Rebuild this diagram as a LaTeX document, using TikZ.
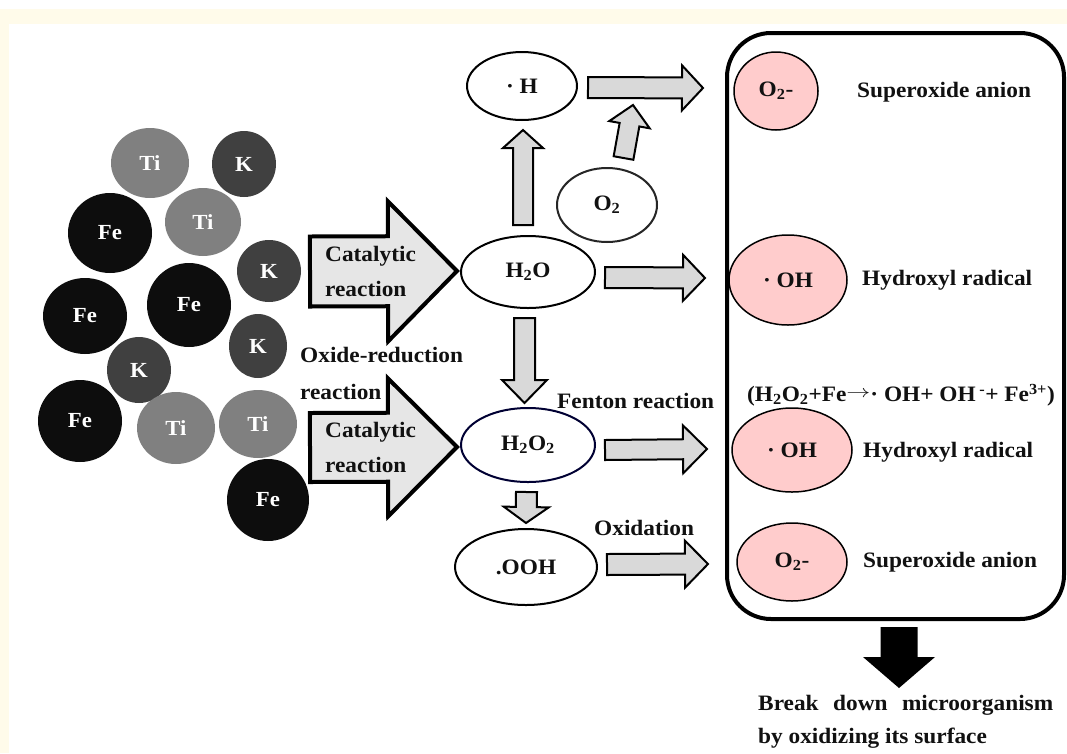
\documentclass[tikz,border=0pt]{standalone}
\usepackage{fontspec}
\setmainfont[FakeStretch=1.06]{Liberation Serif}
\usetikzlibrary{shapes.geometric,calc}
\definecolor{cream}{HTML}{FFFBEA}
\definecolor{tigray}{HTML}{808080}
\definecolor{kgray}{HTML}{404040}
\definecolor{fegray}{HTML}{0D0D0D}
\definecolor{pinkf}{HTML}{FFCCCC}
\definecolor{arrfill}{HTML}{D9D9D9}
\definecolor{catfill}{HTML}{E6E6E6}
\definecolor{inkc}{HTML}{111111}
\newcommand\Lf{\fontsize{22}{26}\selectfont\bfseries}
\newcommand\Ef{\fontsize{21.5}{25}\selectfont\bfseries}
\newcommand\longarr{\raisebox{4pt}{\resizebox{24pt}{6.5pt}{$\rightarrow$}}}
\newcommand\barrow[6]{%
  \coordinate (ba-A) at #2; \coordinate (ba-B) at #3;
  \coordinate (ba-C) at ($(ba-B)!#6pt!(ba-A)$);
  \path[#1] ($(ba-A)!#4pt!90:(ba-B)$) -- ($(ba-C)!#4pt!90:(ba-B)$) -- ($(ba-C)!#5pt!90:(ba-B)$) -- (ba-B)
    -- ($(ba-C)!#5pt!-90:(ba-B)$) -- ($(ba-C)!#4pt!-90:(ba-B)$) -- ($(ba-A)!#4pt!-90:(ba-B)$) -- cycle;}
\tikzset{
  elem/.style={ellipse, inner sep=0pt, text=white, font=\Ef},
  ti/.style={elem, fill=tigray},
  kk/.style={elem, fill=kgray},
  fe/.style={elem, fill=fegray},
  mol/.style={ellipse, draw=black, line width=2pt, fill=white, inner sep=0pt, font=\Lf, text=inkc},
  rad/.style={ellipse, draw=black, line width=1.5pt, fill=pinkf, inner sep=0pt, font=\Lf, text=inkc},
  lbl/.style={anchor=west, inner sep=0pt, font=\Lf, text=inkc},
  grayarrow/.style={draw=black, fill=arrfill, line width=2pt, line join=miter},
  catarrow/.style={draw=black, fill=catfill, line width=4pt, line join=miter},
  blackarrow/.style={fill=black},
}
\begin{document}
\begin{tikzpicture}[x=1pt, y=-1pt]
\useasboundingbox (0,0) rectangle (1067,753);
\fill[white] (0,0) rectangle (1067,753);
\fill[cream] (0,9) rectangle (1067,24);
\fill[cream] (0,9) rectangle (9,753);

% element particles
\node[ti, minimum width=78pt, minimum height=70pt] (ti1) at (150,163) {Ti};
\node[kk, minimum width=64pt, minimum height=66pt] (k1) at (244,164) {K};
\node[fe, minimum width=84pt, minimum height=80pt] (fe1) at (110,233) {Fe};
\node[ti, minimum width=76pt, minimum height=68pt] (ti2) at (203,222) {Ti};
\node[kk, minimum width=64pt, minimum height=62pt] (k2) at (269,271) {K};
\node[fe, minimum width=84pt, minimum height=84pt] (fe2) at (189,305) {Fe};
\node[fe, minimum width=84pt, minimum height=76pt] (fe3) at (85,316) {Fe};
\node[kk, minimum width=58pt, minimum height=64pt] (k3) at (258,346) {K};
\node[kk, minimum width=64pt, minimum height=66pt] (k4) at (139,370) {K};
\node[fe, minimum width=84pt, minimum height=82pt] (fe4) at (80,421) {Fe};
\node[ti, minimum width=78pt, minimum height=72pt] (ti3) at (176,428) {Ti};
\node[ti, minimum width=78pt, minimum height=68pt] (ti4) at (258,424) {Ti};
\node[fe, minimum width=82pt, minimum height=82pt] (fe5) at (268,500) {Fe};

% catalytic arrows
\barrow{catarrow}{(310,271.5)}{(457,271)}{35}{70}{69}
\barrow{catarrow}{(310,447.5)}{(457,447)}{34.5}{69}{69}
\node[lbl, align=left, font=\fontsize{22}{35}\selectfont\bfseries] (cat1) at (325,271) {Catalytic\\reaction};
\node[lbl, align=left, font=\fontsize{22}{35}\selectfont\bfseries] (cat2) at (325,447) {Catalytic\\reaction};
\node[lbl, align=left, font=\fontsize{22}{37}\selectfont\bfseries] (oxred) at (300,373) {Oxide-reduction\\reaction};

% molecules
\node[mol, minimum width=110pt, minimum height=68pt] (H) at (522,86) {· H};
\node[mol, draw=black!85, minimum width=100pt, minimum height=74pt] (O2) at (607,205) {O\textsubscript{2}};
\node[mol, minimum width=134pt, minimum height=72pt] (H2O) at (528,272) {H\textsubscript{2}O};
\node[mol, draw=black!80!blue, minimum width=134pt, minimum height=74pt] (H2O2) at (528,445) {H\textsubscript{2}O\textsubscript{2}};
\node[mol, minimum width=142pt, minimum height=76pt] (OOH) at (526,567) {.OOH};

% gray arrows
\barrow{grayarrow}{(588,87.5)}{(703,88)}{10.5}{22.5}{21}
\barrow{grayarrow}{(523,225)}{(523,130)}{10}{20}{18}
\barrow{grayarrow}{(623.5,158)}{(633,105)}{10}{20.5}{20}
\barrow{grayarrow}{(605,277.5)}{(705,278)}{10.5}{23}{22}
\barrow{grayarrow}{(524.5,318)}{(524.5,403)}{10.5}{22.5}{23}
\barrow{grayarrow}{(605,450)}{(707,449)}{10}{24}{24}
\barrow{grayarrow}{(526.5,492)}{(526,523)}{10.5}{22.5}{16}
\barrow{grayarrow}{(607,564.5)}{(708,564)}{10.5}{23.5}{23}

\node[lbl] (fenton) at (557,401) {Fenton reaction};
\node[lbl] (oxid) at (594,528) {Oxidation};

% result box
\draw[line width=4pt, rounded corners=44pt] (727,33) rectangle (1064,619);
\node[rad, minimum width=84pt, minimum height=78pt] (r1) at (776,91) {O\textsubscript{2}-};
\node[rad, minimum width=118pt, minimum height=90pt] (r2) at (788,280) {· OH};
\node[rad, minimum width=120pt, minimum height=84pt] (r3) at (792,450) {· OH};
\node[rad, minimum width=110pt, minimum height=78pt] (r4) at (792,562) {O\textsubscript{2}-};
\node[lbl] (t1) at (857,92) {Superoxide anion};
\node[lbl] (t2) at (862,280) {Hydroxyl radical};
\node[lbl] (eq) at (747,395) {(H\textsubscript{2}O\textsubscript{2}+Fe\longarr· OH+ OH\,\textsuperscript{-}+ Fe\textsuperscript{3+})};
\node[lbl] (t3) at (863,452) {Hydroxyl radical};
\node[lbl] (t4) at (863,562) {Superoxide anion};

% final arrow and text
\barrow{blackarrow}{(899,627)}{(899,688)}{18.5}{36}{31}
\node[lbl, align=left, font=\fontsize{22}{33}\selectfont\bfseries] (final) at (758,721.5)
  {\makebox[295pt][s]{Break down microorganism}\\by oxidizing its surface};
\end{tikzpicture}
\end{document}
